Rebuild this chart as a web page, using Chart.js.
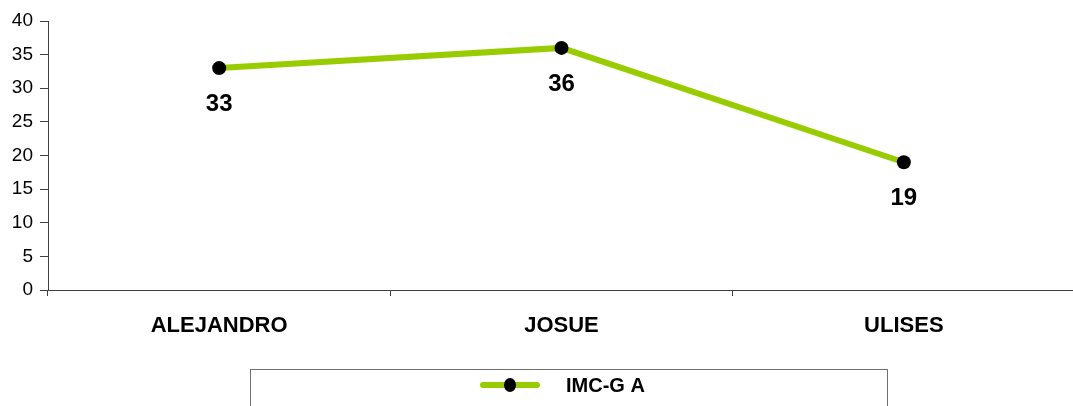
<!DOCTYPE html>
<html>
<head>
<meta charset="utf-8">
<script src="https://cdn.jsdelivr.net/npm/chart.js@4/dist/chart.umd.min.js"></script>
<style>
  html, body { margin: 0; padding: 0; background: #fff; overflow: hidden; }
  #wrap { position: relative; width: 1080px; height: 406px; }
</style>
</head>
<body>
<div id="wrap"><canvas id="c"></canvas></div>
<script>
// Categories and values
const categories = ['ALEJANDRO', 'JOSUE', 'ULISES'];
const imcValues = [33, 36, 19];
const seriesLabel = 'IMC-G A';
const yTicks = [0, 5, 10, 15, 20, 25, 30, 35, 40];

const FONT = '"Liberation Sans", Arial, sans-serif';
const LINE_COLOR = '#99CC00';
const AXIS_COLOR = '#404040';

// Value labels below each point
const valueLabels = {
  id: 'valueLabels',
  afterDatasetsDraw(chart) {
    const ctx = chart.ctx;
    const meta = chart.getDatasetMeta(0);
    const data = chart.data.datasets[0].data;
    ctx.save();
    ctx.font = 'bold 24px ' + FONT;
    ctx.fillStyle = '#000';
    ctx.textAlign = 'center';
    ctx.textBaseline = 'middle';
    meta.data.forEach((pt, i) => {
      ctx.fillText(String(data[i]), pt.x, pt.y + 36);
    });
    ctx.restore();
  }
};

// Boxed legend under the axis
const boxLegend = {
  id: 'boxLegend',
  afterDraw(chart) {
    const ctx = chart.ctx;
    const ds = chart.data.datasets[0];
    ctx.save();
    ctx.strokeStyle = '#707070';
    ctx.lineWidth = 1;
    ctx.strokeRect(250.5, 369.5, 637, 60);
    const cy = 385;
    ctx.strokeStyle = ds.borderColor;
    ctx.lineWidth = 6;
    ctx.lineCap = 'round';
    ctx.beginPath();
    ctx.moveTo(483, cy);
    ctx.lineTo(537, cy);
    ctx.stroke();
    ctx.fillStyle = '#000';
    ctx.beginPath();
    ctx.ellipse(510, cy, 6, 7, 0, 0, Math.PI * 2);
    ctx.fill();
    ctx.font = 'bold 20px ' + FONT;
    ctx.textAlign = 'left';
    ctx.textBaseline = 'middle';
    ctx.fillText(ds.label, 566, cy + 1);
    ctx.restore();
  }
};

new Chart(document.getElementById('c'), {
  type: 'line',
  data: {
    labels: categories,
    datasets: [{
      label: seriesLabel,
      data: imcValues,
      borderColor: LINE_COLOR,
      backgroundColor: LINE_COLOR,
      borderWidth: 6,
      pointRadius: 7,
      pointBackgroundColor: '#000',
      pointBorderColor: '#000',
      pointBorderWidth: 0,
      tension: 0,
      fill: false
    }]
  },
  options: {
    responsive: true,
    maintainAspectRatio: false,
    animation: false,
    layout: { padding: { top: 21, right: 5, left: 0, bottom: 0 }, autoPadding: false },
    plugins: {
      legend: { display: false },
      tooltip: { enabled: false }
    },
    scales: {
      x: {
        offset: true,
        grid: {
          offset: true,
          drawOnChartArea: false,
          drawTicks: true,
          tickLength: 6,
          color: AXIS_COLOR
        },
        border: { display: true, color: AXIS_COLOR, width: 1 },
        ticks: {
          color: '#000',
          font: { family: FONT, size: 22, weight: 'bold' },
          padding: 17,
          maxRotation: 0
        },
        afterFit(scale) { scale.height = 116; }
      },
      y: {
        min: 0,
        max: 40,
        afterBuildTicks(scale) { scale.ticks = yTicks.map(v => ({ value: v })); },
        grid: {
          drawOnChartArea: false,
          drawTicks: true,
          tickLength: 8,
          color: AXIS_COLOR
        },
        border: { display: true, color: AXIS_COLOR, width: 1 },
        ticks: {
          color: '#000',
          font: { family: FONT, size: 19 },
          padding: 7
        },
        afterFit(scale) { scale.width = 48; }
      }
    }
  },
  plugins: [valueLabels, boxLegend]
});
</script>
</body>
</html>
